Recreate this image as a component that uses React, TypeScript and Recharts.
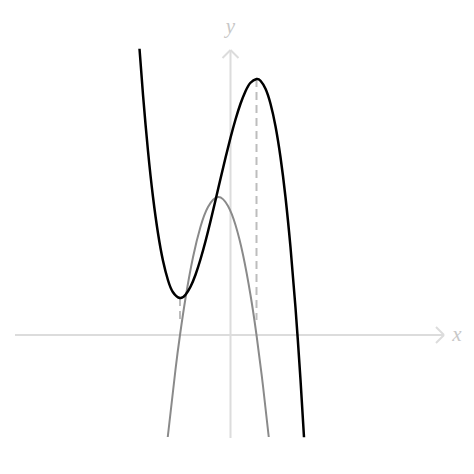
import React from 'react';
import { LineChart, Line, XAxis, YAxis, ReferenceLine, ReferenceDot } from 'recharts';

// cubic f(x), values
const cubicX = [-3.64, -3.5, -3.3, -3.1, -2.9, -2.7, -2.5, -2.3, -2.02, -1.8, -1.6, -1.4, -1.2, -1.0, -0.8, -0.6, -0.4, -0.2, 0, 0.2, 0.4, 0.6, 0.8, 1.04, 1.2, 1.4, 1.6, 1.8, 2.0, 2.2, 2.4, 2.6, 2.8, 2.94];
const cubicY = [11.45, 9.61, 7.36, 5.52, 4.07, 2.97, 2.19, 1.71, 1.48, 1.61, 1.93, 2.41, 3.03, 3.75, 4.55, 5.39, 6.25, 7.09, 7.89, 8.62, 9.25, 9.75, 10.09, 10.24, 10.17, 9.85, 9.25, 8.35, 7.11, 5.51, 3.51, 1.09, -1.79, -4.09];

// parabola f'(x)
const parabX = [-2.51, -2.2, -2.02, -1.8, -1.5, -1.2, -0.9, -0.49, -0.1, 0.2, 0.5, 0.8, 1.04, 1.3, 1.53];
const parabY = [-4.08, -1.38, 0, 1.47, 3.11, 4.33, 5.12, 5.52, 5.16, 4.4, 3.21, 1.6, 0, -2.04, -4.08];

// extrema of f (where f' = 0)
const extremaX = [-2.02, 1.04];
const extremaY = [1.48, 10.24];

const cubic = cubicX.map((x, i) => ({ x, y: cubicY[i] }));
const parab = parabX.map((x, i) => ({ x, y: parabY[i] }));

const AXIS = '#dcdcdc';
const AXIS_TEXT = '#c8c8c8';

export default function App() {
  return (
    <div style={{ position: 'fixed', left: 0, top: 0, background: '#fff' }}>
      <LineChart width={474} height={474} margin={{ top: 0, right: 0, bottom: 0, left: 0 }}>
        <XAxis type="number" dataKey="x" domain={[-9.22, 9.74]} hide allowDataOverflow />
        <YAxis type="number" dataKey="y" domain={[-5.56, 13.4]} hide allowDataOverflow />

        {/* axes with open arrow heads */}
        <ReferenceLine segment={[{ x: -8.62, y: 0 }, { x: 8.54, y: 0 }]} stroke={AXIS} strokeWidth={2} />
        <ReferenceLine segment={[{ x: 8.54, y: 0 }, { x: 8.22, y: 0.32 }]} stroke={AXIS} strokeWidth={2} />
        <ReferenceLine segment={[{ x: 8.54, y: 0 }, { x: 8.22, y: -0.32 }]} stroke={AXIS} strokeWidth={2} />
        <ReferenceLine segment={[{ x: 0, y: -4.12 }, { x: 0, y: 11.4 }]} stroke={AXIS} strokeWidth={2} />
        <ReferenceLine segment={[{ x: 0, y: 11.4 }, { x: -0.32, y: 11.08 }]} stroke={AXIS} strokeWidth={2} />
        <ReferenceLine segment={[{ x: 0, y: 11.4 }, { x: 0.32, y: 11.08 }]} stroke={AXIS} strokeWidth={2} />

        <ReferenceDot x={9.06} y={0} r={0} shape={(p: any) => (
          <text x={p.cx} y={p.cy + 6} textAnchor="middle" fontFamily="Liberation Serif" fontStyle="italic" fontSize={21} fill={AXIS_TEXT}>x</text>
        )} />
        <ReferenceDot x={0} y={12.1} r={0} shape={(p: any) => (
          <text x={p.cx} y={p.cy} textAnchor="middle" fontFamily="Liberation Serif" fontStyle="italic" fontSize={21} fill={AXIS_TEXT}>y</text>
        )} />

        {/* dashed drops from the extrema */}
        {extremaX.map((x, i) => (
          <ReferenceLine key={i} segment={[{ x, y: extremaY[i] }, { x, y: 0.6 }]} stroke="#bdbdbd" strokeWidth={2} strokeDasharray="8 5" />
        ))}

        <Line data={parab} dataKey="y" type="natural" stroke="#8a8a8a" strokeWidth={2} dot={false} activeDot={false} isAnimationActive={false} />
        <Line data={cubic} dataKey="y" type="natural" stroke="#000" strokeWidth={2.5} dot={false} activeDot={false} isAnimationActive={false} />
      </LineChart>
    </div>
  );
}
